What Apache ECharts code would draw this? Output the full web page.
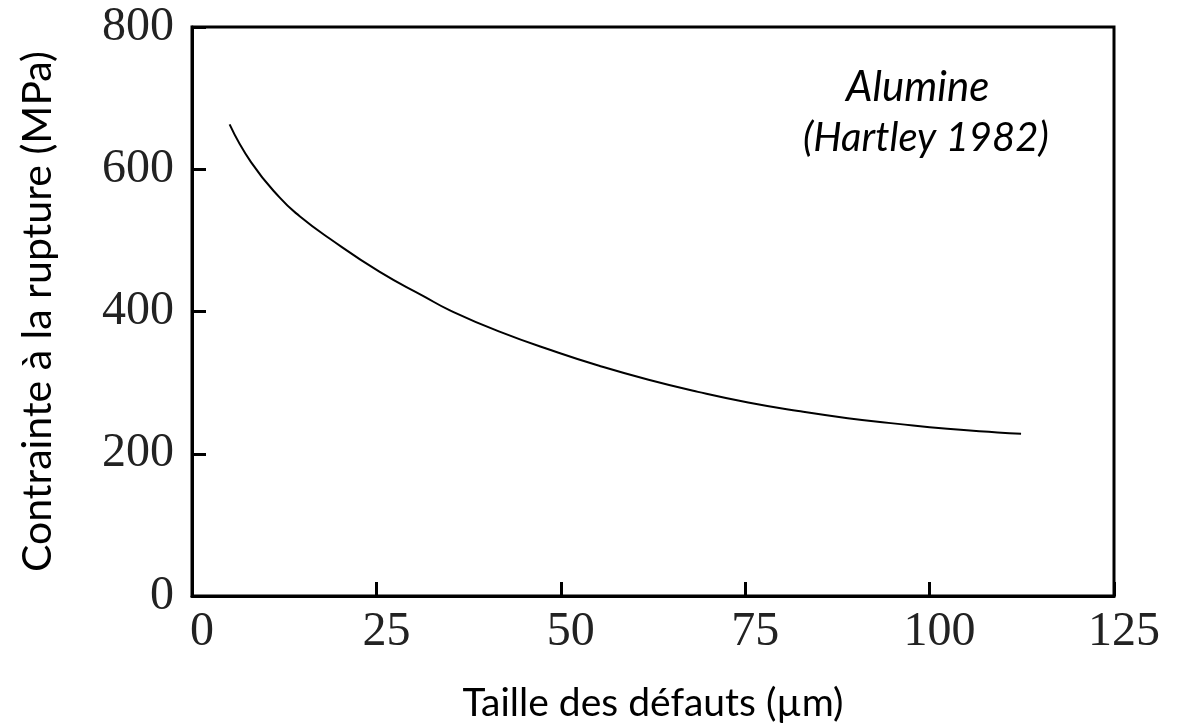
<!DOCTYPE html>
<html>
<head>
<meta charset="utf-8">
<script src="https://cdn.jsdelivr.net/npm/echarts@6/dist/echarts.min.js"></script>
<style>
html,body{margin:0;padding:0;background:#fff;}
#chart{width:1192px;height:728px;}
</style>
</head>
<body>
<div id="chart"></div>
<script>
// taille des défauts (µm) et contrainte à la rupture (MPa)
var tailles = [5.1, 8, 11.9, 14.6, 18.6, 25.4, 31.5, 34.9, 41.6, 49.7, 55.1, 61.9, 68.6, 75.4, 82.2, 88.9, 95.7, 102.4, 109.2, 112.4];
var contraintes = [663, 610, 560, 534, 503, 456, 421, 402, 372, 342, 324, 304, 287, 272, 260, 250, 242, 235, 230, 228];
var xTicks = [0, 25, 50, 75, 100, 125];
var yTicks = [0, 200, 400, 600, 800];
var annotation = ['Alumine', '(Hartley 1982)'];

var courbe = [];
for (var i in tailles) {
	courbe.push([tailles[i], contraintes[i]]);
}

var tickFont = {
	fontFamily: 'Liberation Serif',
	fontSize: 48,
	color: '#222'
};

option = {
	animation: false,
	grid: {
		left: 192,
		top: 27,
		width: 922,
		height: 571,
		show: true,
		borderColor: '#000',
		borderWidth: 3
	},
	xAxis: {
		type: 'value',
		min: xTicks[0],
		max: xTicks[xTicks.length - 1],
		interval: 25,
		name: 'Taille des défauts (µm)',
		nameLocation: 'middle',
		nameGap: 88,
		nameTextStyle: {
			fontFamily: 'Lato',
			fontSize: 39,
			color: '#000'
		},
		axisLine: {lineStyle: {color: '#000', width: 3}},
		axisTick: {inside: true, length: 14, lineStyle: {color: '#000', width: 3}},
		splitLine: {show: false},
		axisLabel: Object.assign({margin: 12, padding: [0, 0, 0, 20]}, tickFont)
	},
	yAxis: {
		type: 'value',
		min: yTicks[0],
		max: yTicks[yTicks.length - 1],
		interval: 200,
		name: 'Contrainte à la rupture (MPa)',
		nameLocation: 'middle',
		nameRotate: 90,
		nameGap: 134,
		nameTextStyle: {
			fontFamily: 'Lato',
			fontSize: 41,
			color: '#000'
		},
		axisLine: {lineStyle: {color: '#000', width: 3}},
		axisTick: {inside: true, length: 14, lineStyle: {color: '#000', width: 3}},
		splitLine: {show: false},
		axisLabel: Object.assign({margin: 18}, tickFont)
	},
	graphic: [{
		type: 'text',
		left: 846,
		top: 66,
		style: {
			text: annotation[0],
			font: 'italic 42px Lato',
			fill: '#000'
		}
	}, {
		type: 'text',
		left: 803,
		top: 118,
		style: {
			text: annotation[1],
			font: 'italic 40px Lato',
			fill: '#000'
		}
	}],
	series: [{
		type: 'line',
		data: courbe,
		smooth: true,
		showSymbol: false,
		lineStyle: {color: '#000', width: 2}
	}]
};

var myChart = echarts.init(document.getElementById('chart'));
myChart.setOption(option);
</script>
</body>
</html>
